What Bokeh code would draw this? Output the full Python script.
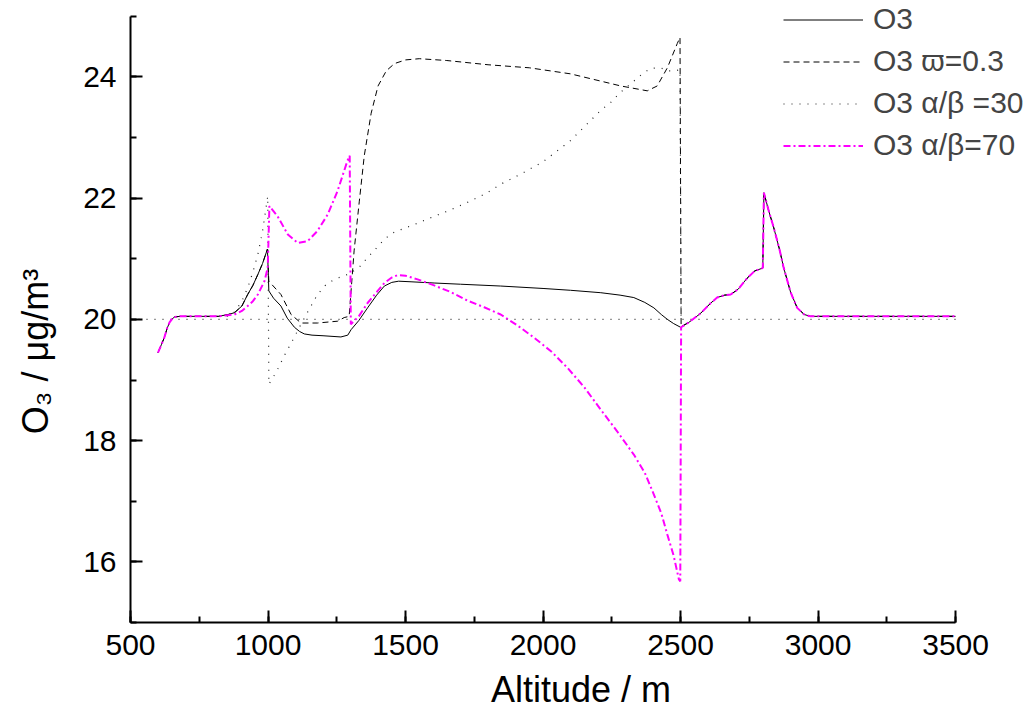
from bokeh.plotting import figure
from bokeh.models import Legend, LegendItem, SingleIntervalTicker, Range1d
from bokeh.embed import file_html
from bokeh.resources import INLINE

# ---------------- data ----------------
o3_x = [600, 612, 623, 633, 642, 650, 660, 680, 750, 820, 855, 878, 905, 926, 945, 963, 980, 998,
        1003, 1020, 1047, 1070, 1096, 1115, 1132, 1160, 1200, 1265, 1290, 1302, 1330, 1362, 1395,
        1423, 1450, 1475, 1520, 1604, 1700, 1846, 2000, 2100, 2210, 2280, 2330, 2370, 2403, 2430,
        2452, 2475, 2500, 2530, 2573, 2610, 2633, 2660, 2682, 2710, 2742, 2770, 2795, 2799, 2803,
        2820, 2839, 2860, 2875, 2900, 2924, 2950, 2972, 3000, 3200, 3500]
o3_y = [19.45, 19.58, 19.70, 19.85, 19.95, 20.00, 20.04, 20.05, 20.05, 20.05, 20.08, 20.11, 20.22,
        20.41, 20.56, 20.74, 20.92, 21.16,
        20.47, 20.35, 20.22, 20.02, 19.87, 19.80, 19.76, 19.74, 19.73, 19.71, 19.74, 19.83, 19.98,
        20.19, 20.40, 20.55, 20.61, 20.63, 20.62, 20.60, 20.58, 20.55, 20.51, 20.48, 20.44, 20.40,
        20.36, 20.28, 20.19, 20.08, 20.00, 19.93, 19.87, 19.95, 20.10, 20.27, 20.36, 20.40, 20.41,
        20.50, 20.68, 20.80, 20.84, 20.85, 22.09, 21.80, 21.51, 21.15, 20.85, 20.45, 20.19, 20.08,
        20.05, 20.05, 20.05, 20.05]

w03_x = [600, 612, 623, 633, 642, 650, 660, 680, 750, 820, 855, 878, 905, 926, 945, 963, 980, 998,
         1003, 1047, 1084, 1120, 1180, 1253, 1277, 1295, 1313, 1332, 1350, 1375, 1400, 1430, 1460,
         1500, 1550, 1650, 1800, 1950, 2100, 2210, 2283, 2379, 2415, 2452, 2488, 2498,
         2502, 2530, 2573, 2610, 2633, 2660, 2682, 2710, 2742, 2770, 2795, 2799, 2803,
         2820, 2839, 2860, 2875, 2900, 2924, 2950, 2972, 3000, 3200, 3500]
w03_y = [19.45, 19.58, 19.70, 19.85, 19.95, 20.00, 20.04, 20.05, 20.05, 20.05, 20.08, 20.11, 20.22,
         20.41, 20.56, 20.74, 20.92, 21.16,
         20.63, 20.41, 20.08, 19.94, 19.94, 19.97, 20.03, 20.05, 21.13, 21.95, 22.70, 23.40, 23.85,
         24.10, 24.22, 24.28, 24.30, 24.27, 24.20, 24.15, 24.05, 23.93, 23.85, 23.77, 23.85, 24.15,
         24.55, 24.65,
         19.88, 19.95, 20.10, 20.27, 20.36, 20.40, 20.41, 20.50, 20.68, 20.80, 20.84, 20.85, 22.09,
         21.80, 21.51, 21.15, 20.85, 20.45, 20.19, 20.08, 20.05, 20.05, 20.05, 20.05]

ab30_x = [850, 878, 905, 926, 945, 963, 980, 999, 1003, 1030, 1059, 1090, 1120, 1150, 1180, 1210,
          1241, 1289, 1330, 1362, 1395, 1423, 1450, 1483, 1540, 1604, 1660, 1725, 1790, 1846, 1920,
          2000, 2100, 2210, 2252, 2275, 2330, 2361, 2391, 2427, 2457, 2482, 2498, 2502]
ab30_y = [20.05, 20.12, 20.30, 20.52, 20.78, 21.07, 21.45, 22.03, 18.93, 19.13, 19.40, 19.66, 19.92,
          20.17, 20.41, 20.57, 20.66, 20.74, 20.85, 21.02, 21.18, 21.32, 21.42, 21.48, 21.58, 21.70,
          21.80, 21.93, 22.07, 22.23, 22.40, 22.60, 22.95, 23.45, 23.60, 23.72, 23.93, 24.05, 24.14,
          24.15, 24.10, 24.10, 24.12, 20.00]

ab70_x = [600, 612, 623, 633, 642, 650, 660, 680, 750, 820, 855, 878, 905, 926, 945, 963, 987, 999,
          1005, 1035, 1072, 1108, 1144, 1180, 1217, 1253, 1289, 1297,
          1301, 1330, 1362, 1395, 1423, 1450, 1471, 1500, 1544, 1604, 1665, 1725, 1786, 1846, 1907,
          1967, 2030, 2089, 2150, 2210, 2270, 2330, 2370, 2403, 2430, 2452, 2475, 2494, 2499,
          2502, 2530, 2573, 2610, 2633, 2660, 2682, 2710, 2742, 2770, 2795, 2799, 2803,
          2820, 2839, 2860, 2875, 2900, 2924, 2950, 2972, 3000, 3200, 3500]
ab70_y = [19.45, 19.58, 19.70, 19.85, 19.95, 20.00, 20.04, 20.05, 20.05, 20.05, 20.07, 20.08, 20.14,
          20.22, 20.30, 20.41, 20.63, 20.85,
          21.87, 21.70, 21.40, 21.26, 21.29, 21.46, 21.73, 22.12, 22.62, 22.70,
          19.92, 20.05, 20.27, 20.45, 20.60, 20.69, 20.73, 20.72, 20.66, 20.56, 20.45, 20.31, 20.20,
          20.08, 19.90, 19.70, 19.47, 19.20, 18.88, 18.51, 18.15, 17.77, 17.47, 17.11, 16.80, 16.45,
          16.10, 15.71, 15.68,
          19.87, 19.95, 20.10, 20.27, 20.36, 20.40, 20.41, 20.50, 20.68, 20.80, 20.84, 20.85, 22.09,
          21.80, 21.51, 21.15, 20.85, 20.45, 20.19, 20.08, 20.05, 20.05, 20.05, 20.05]

ref_x = [500, 3500]
ref_y = [20, 20]

series_labels = ["O3", "O3 \u03d6=0.3", "O3 \u03b1/\u03b2 =30", "O3 \u03b1/\u03b2=70"]
x_title = "Altitude / m"
y_title = "O\u2083 / \u03bcg/m\u00b3" + "\u00a0" * 8

x_bounds = (500, 3500)
y_bounds = (15, 25)

FONT = "Liberation Sans"

# ---------------- figure ----------------
p = figure(width=1031, height=720, output_backend="svg", toolbar_location=None,
           x_range=Range1d(500, 3776), y_range=Range1d(15, 25.26),
           min_border_left=130, min_border_right=0, min_border_top=0, min_border_bottom=98)
p.grid.visible = False
p.outline_line_color = None
p.background_fill_color = "white"

p.xaxis.ticker = SingleIntervalTicker(interval=500, num_minor_ticks=2)
p.yaxis.ticker = SingleIntervalTicker(interval=2, num_minor_ticks=2)
p.xaxis.bounds = x_bounds
p.yaxis.bounds = y_bounds
for ax in (p.xaxis[0], p.yaxis[0]):
    ax.axis_line_width = 2
    ax.axis_line_color = "black"
    ax.major_tick_line_width = 2
    ax.minor_tick_line_width = 2
    ax.major_tick_in = 12
    ax.major_tick_out = 0
    ax.minor_tick_in = 6
    ax.minor_tick_out = 0
    ax.major_label_text_font = FONT
    ax.major_label_text_font_size = "30px"
    ax.major_label_text_color = "black"
    ax.axis_label_text_font = FONT
    ax.axis_label_text_font_size = "36px"
    ax.axis_label_text_font_style = "normal"
    ax.axis_label_text_color = "black"
p.xaxis.major_label_standoff = 12
p.yaxis.major_label_standoff = 14
p.xaxis.axis_label = x_title
p.yaxis.axis_label = y_title
p.xaxis.axis_label_standoff = 11
p.yaxis.axis_label_standoff = 24

p.line(ref_x, ref_y, line_color="#333333", line_width=1.2, line_dash="1 7")

r_o3 = p.line(o3_x, o3_y, line_color="black", line_width=1)
r_w = p.line(w03_x, w03_y, line_color="black", line_width=1, line_dash="6 4")
r_30 = p.line(ab30_x, ab30_y, line_color="#222222", line_width=1.2, line_dash="1 7")
r_70 = p.line(ab70_x, ab70_y, line_color="#ff00ff", line_width=2, line_dash="7 3 2 3")

legend = Legend(items=[LegendItem(label=series_labels[0], renderers=[r_o3]),
                       LegendItem(label=series_labels[1], renderers=[r_w]),
                       LegendItem(label=series_labels[2], renderers=[r_30]),
                       LegendItem(label=series_labels[3], renderers=[r_70])],
                location=(653, 460), padding=0, margin=0, spacing=8,
                glyph_width=80, glyph_height=33, label_height=33, label_standoff=10,
                label_text_font=FONT, label_text_font_size="30px",
                background_fill_alpha=0, border_line_alpha=0)
p.add_layout(legend)

open("out.html", "w").write(file_html(p, INLINE))
